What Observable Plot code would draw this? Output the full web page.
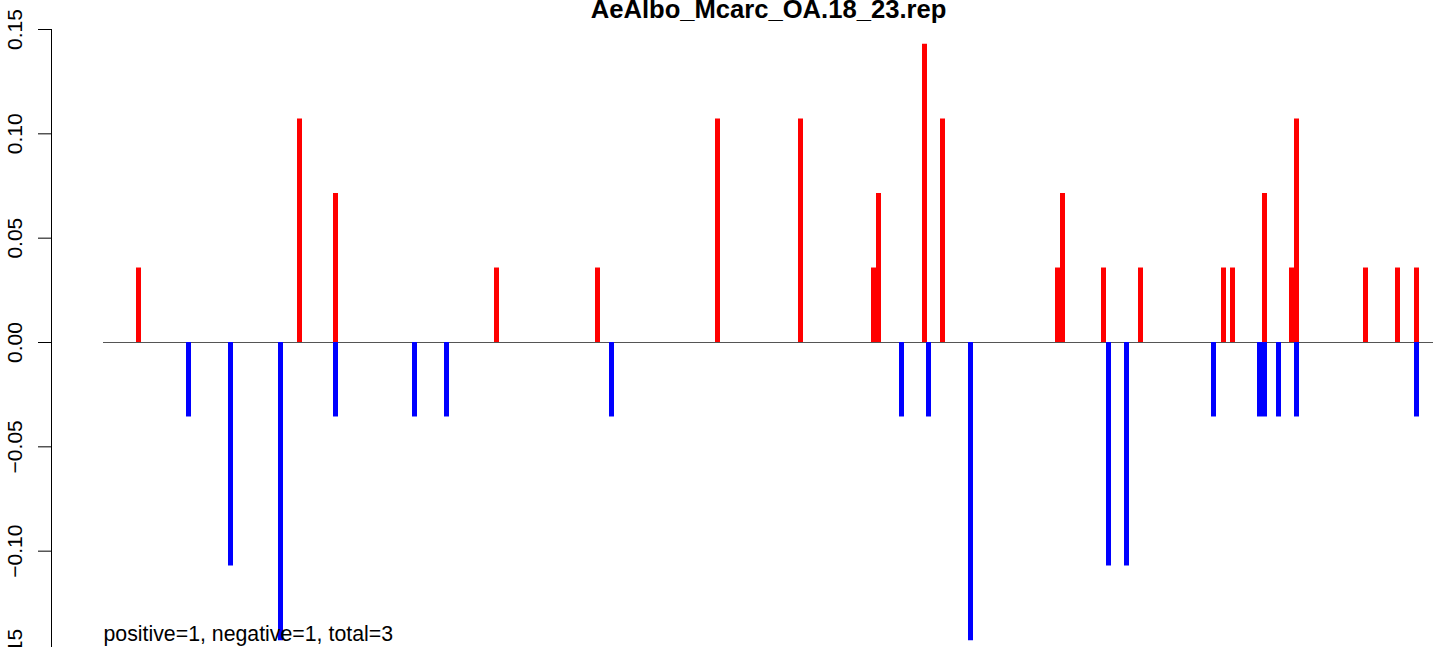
<!DOCTYPE html>
<html>
<head>
<meta charset="utf-8">
<script src="https://cdn.jsdelivr.net/npm/d3@7"></script>
<script src="https://cdn.jsdelivr.net/npm/@observablehq/plot@0.6"></script>
<style>
  html, body { margin: 0; padding: 0; background: white; overflow: hidden; }
</style>
</head>
<body>
<div id="chart"></div>
<script>
// Data (x = position along the track, y = score)
const title = "AeAlbo_Mcarc_OA.18_23.rep";
const note = "positive=1, negative=1, total=3";

const posX = [35, 196, 232, 393, 494, 614, 697, 770, 775, 821, 839, 954, 959, 1000, 1037, 1120, 1129, 1161, 1188, 1193, 1262, 1294, 1313];
const posY = [0.0357, 0.1071, 0.0714, 0.0357, 0.0357, 0.1071, 0.1071, 0.0357, 0.0714, 0.1429, 0.1071, 0.0357, 0.0714, 0.0357, 0.0357, 0.0357, 0.0357, 0.0714, 0.0357, 0.1071, 0.0357, 0.0357, 0.0357];

const negX = [85, 127, 177, 232, 311, 343, 508, 798, 825, 867, 1005, 1023, 1110, 1156, 1161, 1175, 1193, 1313];
const negY = [-0.0357, -0.1071, -0.1429, -0.0357, -0.0357, -0.0357, -0.0357, -0.0357, -0.0357, -0.1429, -0.1071, -0.1071, -0.0357, -0.0357, -0.0357, -0.0357, -0.0357, -0.0357];

const yTicks = [-0.15, -0.10, -0.05, 0, 0.05, 0.10, 0.15];
const xDomain = [-52, 1330];
const lineStart = 0;

const positives = posX.map((x, i) => ({x, y: posY[i]}));
const negatives = negX.map((x, i) => ({x, y: negY[i]}));
const fmt = d => (d < 0 ? "\u2212" : "") + Math.abs(d).toFixed(2);

const chart = Plot.plot({
  width: 1433,
  height: 680,
  marginLeft: 51,
  marginRight: 0,
  marginTop: 29,
  marginBottom: 25,
  style: {fontFamily: "'Liberation Sans', Arial, Helvetica, sans-serif", fontSize: "21px", background: "white", color: "black"},
  x: {domain: xDomain, axis: null},
  y: {domain: [-0.15, 0.15], axis: null},
  marks: [
    Plot.ruleY([0], {x1: lineStart, x2: xDomain[1], stroke: "#555555", strokeWidth: 1}),
    Plot.ruleX(negatives, {x: "x", y1: 0, y2: "y", stroke: "#0000FF", strokeWidth: 5}),
    Plot.ruleX(positives, {x: "x", y1: 0, y2: "y", stroke: "#FF0000", strokeWidth: 5}),
    Plot.frame({anchor: "left", stroke: "black", strokeWidth: 1}),
    Plot.axisY(yTicks, {anchor: "left", label: null, tickSize: 13, tickFormat: () => "", stroke: "black"}),
    Plot.text(yTicks, {y: d => d, text: fmt, frameAnchor: "left", dx: -36, rotate: -90, textAnchor: "middle", lineAnchor: "middle", fontSize: 21, fill: "black"}),
    Plot.text([title], {frameAnchor: "top", dx: 26, dy: -20, lineAnchor: "middle", fontWeight: "bold", fontSize: 25.6, fill: "black"}),
    Plot.text([note], {x: lineStart, y: -0.15, dy: -21, textAnchor: "start", lineAnchor: "middle", fontSize: 21.3, fill: "black"})
  ]
});
document.getElementById("chart").appendChild(chart);
</script>
</body>
</html>
